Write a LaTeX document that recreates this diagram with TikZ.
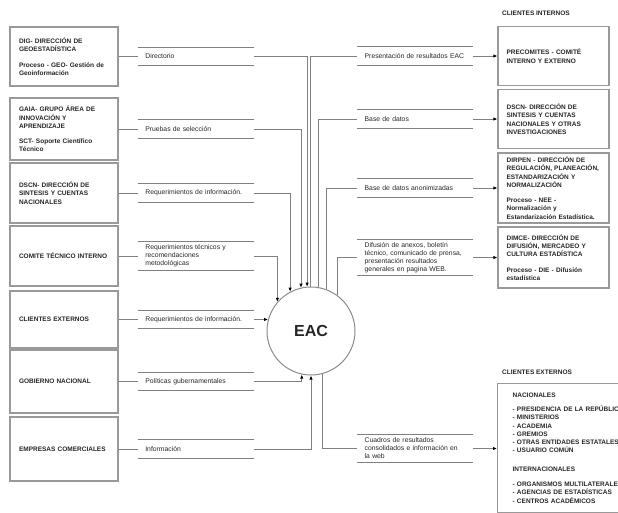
\documentclass[tikz,border=0pt]{standalone}
\usepackage{fontspec}
\setmainfont{Liberation Sans}
\usetikzlibrary{arrows.meta}
\usetikzlibrary{positioning}
\hyphenpenalty=10000
\exhyphenpenalty=10000

\begin{document}
\begin{tikzpicture}
	[> = {Latex[length=4pt,width=3.4pt,black]},
	x=1pt, y=-1pt,
	every node/.style={font=\fontsize{6.5}{8.3}\selectfont\bfseries, text=black!85},
	entity/.style = {draw=black!40, line width=1.3pt, text width=90pt, inner xsep=9pt, inner ysep=2pt, align=left},
	client/.style = {entity, text width=94pt, inner xsep=8.5pt},
	flow/.style = {text width=101pt, inner xsep=7.5pt, inner ysep=3pt, minimum height=18pt, align=left, font=\fontsize{6.8}{8}\selectfont},
	wire/.style = {draw=black!50, line width=0.9pt},
	title/.style = {inner sep=0pt, anchor=west}
	]
	\useasboundingbox (0,0) rectangle (618,512);
	\clip (0,0) rectangle (618,512);

	\node[entity, minimum height=59pt] (b1) at (64,56.5) {DIG- DIRECCIÓN DE\\GEOESTADÍSTICA\\[7pt]Proceso - GEO- Gestión de\\Geoinformación};
	\node[entity, minimum height=62pt] (b2) at (64,129) {GAIA- GRUPO ÁREA DE\\INNOVACIÓN Y\\APRENDIZAJE\\[7pt]SCT- Soporte Científico\\Técnico};
	\node[entity, minimum height=60pt] (b3) at (64,193) {DSCN- DIRECCIÓN DE\\SINTESIS Y CUENTAS\\NACIONALES};
	\node[entity, minimum height=60pt] (b4) at (64,256) {COMITE TÉCNICO INTERNO};
	\node[entity, minimum height=57pt] (b5) at (64,319.5) {CLIENTES EXTERNOS};
	\node[entity, minimum height=63pt] (b6) at (64,381.5) {GOBIERNO NACIONAL};
	\node[entity, minimum height=64pt] (b7) at (64,449) {EMPRESAS COMERCIALES};

	\node[flow, right=19pt of b1] (i1) {Directorio};
	\node[flow, right=19pt of b2] (i2) {Pruebas de selección};
	\node[flow, right=19pt of b3] (i3) {Requerimientos de información.};
	\node[flow, right=19pt of b4] (i4) {Requerimientos técnicos y\\recomendaciones\\metodológicas};
	\node[flow, right=19pt of b5] (i5) {Requerimientos de información.};
	\node[flow, right=19pt of b6] (i6) {Políticas gubernamentales};
	\node[flow, right=19pt of b7] (i7) {Información};

	\node[circle, draw=black!45, line width=1pt, minimum size=88pt, font=\fontsize{16}{18}\selectfont\bfseries] (eac) at (311,331) {EAC};

	\node[flow, anchor=west] (o1) at (357,56) {Presentación de resultados EAC};
	\node[flow, anchor=west] (o2) at (357,119) {Base de datos};
	\node[flow, anchor=west] (o3) at (357,188) {Base de datos anonimizadas};
	\node[flow, anchor=west] (o4) at (357,257.5) {Difusión de anexos, boletín\\técnico, comunicado de prensa,\\presentación resultados\\generales en pagina WEB.};
	\node[flow, anchor=west] (o5) at (357,448.5) {Cuadros de resultados\\consolidados e información en\\la web};

	\node[title] (tin) at (502,13) {CLIENTES INTERNOS};
	\node[client, minimum height=59pt, right=24pt of o1] (c1) {PRECOMITES - COMITÉ\\INTERNO Y EXTERNO};
	\node[client, minimum height=59pt, right=24pt of o2] (c2) {DSCN- DIRECCIÓN DE\\SINTESIS Y CUENTAS\\NACIONALES Y OTRAS\\INVESTIGACIONES};
	\node[client, minimum height=70pt, right=24pt of o3] (c3) {DIRPEN - DIRECCIÓN DE\\REGULACIÓN, PLANEACIÓN,\\ESTANDARIZACIÓN Y\\NORMALIZACIÓN\\[7pt]Proceso - NEE -\\Normalización y\\Estandarización Estadística.};
	\node[client, minimum height=61pt, right=24pt of o4] (c4) {DIMCE- DIRECCIÓN DE\\DIFUSIÓN, MERCADEO Y\\CULTURA ESTADÍSTICA\\[7pt]Proceso - DIE - Difusión\\estadística};

	\node[title] (tex) at (502,372) {CLIENTES EXTERNOS};
	\node[entity, anchor=north west, text width=150pt, inner xsep=15pt, inner ysep=9pt] (ext) at (497,383) {NACIONALES\\[6pt]- PRESIDENCIA DE LA REPÚBLICA\\- MINISTERIOS\\- ACADEMIA\\- GREMIOS\\- OTRAS ENTIDADES ESTATALES\\- USUARIO COMÚN\\[10pt]INTERNACIONALES\\[7pt]- ORGANISMOS MULTILATERALES\\- AGENCIAS DE ESTADÍSTICAS\\- CENTROS ACADÉMICOS};

	\foreach \f in {i1,i2,i3,i4,i5,i6,i7,o1,o2,o3,o4,o5}
		\draw[wire, line width=1.1pt] (\f.north west) -- (\f.north east) (\f.south west) -- (\f.south east);

	\foreach \b/\i in {b1/i1,b2/i2,b3/i3,b4/i4,b5/i5,b6/i6,b7/i7}
		\draw[wire] (\b.east) -- (\i.west);

	\draw[wire, ->] (i1.east) -| (eac.95);
	\draw[wire, ->] (i2.east) -| (eac.103);
	\draw[wire, ->] (i3.east) -| (eac.118);
	\draw[wire, ->] (i4.east) -| (eac.139);
	\draw[wire, ->] (i5.east) -- (eac.165);
	\draw[wire, ->] (i6.east) -| (eac.258);
	\draw[wire, ->] (i7.east) -| (eac.270);

	\draw[wire] (eac.91) |- (o1.west);
	\draw[wire] (eac.81) |- (o2.west);
	\draw[wire] (eac.70) |- (o3.west);
	\draw[wire] (eac.54) |- (o4.west);
	\draw[wire] (eac.285) |- (o5.west);

	\foreach \o/\c in {o1/c1,o2/c2,o3/c3,o4/c4}
		\draw[wire, ->] (\o.east) -- (\c.west);
	\draw[wire, ->] (o5.east) -- (o5.east -| ext.west);
\end{tikzpicture}
\end{document}
